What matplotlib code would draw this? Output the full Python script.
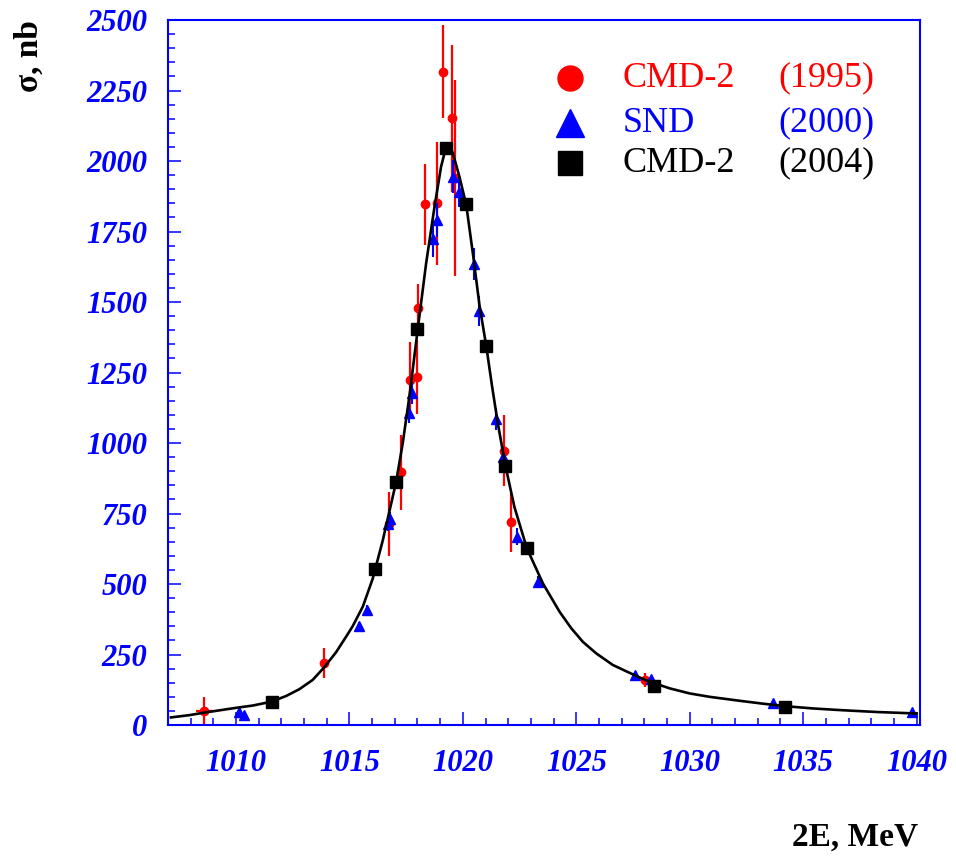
import numpy as np
import matplotlib.pyplot as plt
from matplotlib.ticker import MultipleLocator

# CMD-2 (1995): energy, cross section, errors
cmd95_E = [1008.60, 1013.88, 1016.73, 1017.29, 1017.68, 1017.98, 1018.03, 1018.35,
           1018.85, 1019.13, 1019.51, 1019.67, 1021.82, 1022.14, 1028.05]
cmd95_sig = [50, 221, 713, 896, 1223, 1235, 1478, 1846, 1851, 2317, 2151, 1940, 973, 719, 160]
cmd95_err = [48, 53, 115, 133, 136, 132, 85, 142, 218, 166, 262, 346, 127, 104, 25]
cmd95_Eerr = [0.38, 0, 0, 0, 0, 0, 0, 0, 0, 0, 0, 0, 0, 0, 0]

# SND (2000)
snd_E = [1010.15, 1010.37, 1015.44, 1015.78, 1016.69, 1016.79, 1017.63, 1017.76, 1018.67,
         1018.84, 1019.57, 1019.84, 1020.48, 1020.69, 1021.44, 1021.76, 1022.38, 1023.30,
         1027.61, 1028.31, 1033.67, 1039.82]
snd_sig = [45, 35, 351, 408, 713, 729, 1107, 1178, 1723, 1791, 1944, 1891, 1634, 1468,
           1085, 951, 668, 508, 177, 163, 77, 45]
snd_err = [8, 8, 15, 18, 25, 25, 35, 38, 65, 60, 58, 53, 56, 53, 40, 35, 30, 20, 10, 10, 8, 6]

# CMD-2 (2004)
cmd04_E = [1011.57, 1016.14, 1017.06, 1018.00, 1019.26, 1020.15, 1021.03, 1021.87,
           1022.82, 1028.42, 1034.19]
cmd04_sig = [82, 554, 863, 1403, 2045, 1846, 1345, 918, 627, 138, 65]

# fit curve
fit_E = [1007.13, 1007.94, 1008.60, 1009.26, 1010.00, 1010.73, 1011.57, 1012.21, 1012.79,
         1013.38, 1013.89, 1014.41, 1014.85, 1015.14, 1015.59, 1016.03, 1016.47, 1017.06,
         1017.35, 1017.65, 1018.01, 1018.38, 1018.75, 1019.04, 1019.26, 1019.40, 1019.56,
         1019.85, 1020.15, 1020.47, 1020.73, 1021.03, 1021.29, 1021.54, 1021.88, 1022.27,
         1022.82, 1023.53, 1024.26, 1024.78, 1025.29, 1025.88, 1026.61, 1027.35, 1028.09,
         1028.45, 1029.12, 1030.00, 1030.88, 1032.20, 1033.20, 1034.19, 1035.40, 1036.62,
         1038.30, 1040.00]
fit_sig = [27, 35, 44, 52, 61, 69, 83, 103, 127,
           160, 205, 258, 313, 350, 420, 520, 655, 863,
           1000, 1170, 1403, 1637, 1838, 1980, 2051, 2055, 2027,
           1944, 1844, 1655, 1490, 1344, 1200, 1070, 918, 774,
           627, 502, 402, 343, 295, 254, 213, 185, 158,
           148, 130, 112, 100, 86, 76, 67, 59, 53,
           46, 41]

BLUE = '#0000ff'
RED = '#ff0000'
serif = 'Liberation Serif'

fig = plt.figure(figsize=(9.56, 8.56), dpi=100)
ax = fig.add_axes([0.1757, 0.153, 0.7866, 0.8236])

ax.errorbar(cmd95_E, cmd95_sig, yerr=cmd95_err, xerr=cmd95_Eerr, fmt='o', color=RED,
            ms=6, elinewidth=1.6, capsize=0, zorder=2)
ax.errorbar(snd_E, snd_sig, yerr=snd_err, fmt='^', color=BLUE, ms=6.5,
            elinewidth=1.5, capsize=0, zorder=3)
ax.plot(fit_E, fit_sig, color='black', lw=1.9, zorder=4)
ax.plot(cmd04_E, cmd04_sig, 's', color='black', ms=9, zorder=5)

ax.set_xlim(1007, 1040.15)
ax.set_ylim(0, 2500)
ax.xaxis.set_major_locator(MultipleLocator(5))
ax.xaxis.set_minor_locator(MultipleLocator(1))
ax.yaxis.set_major_locator(MultipleLocator(250))
ax.yaxis.set_minor_locator(MultipleLocator(50))

for s in ax.spines.values():
    s.set_color(BLUE)
    s.set_linewidth(1.5)

ax.tick_params(which='both', direction='in', color=BLUE, width=1.1,
               top=False, right=False, labelcolor=BLUE)
ax.tick_params(which='major', length=9.5)
ax.tick_params(which='minor', length=5)
ax.tick_params(axis='x', which='major', pad=17)
ax.tick_params(axis='y', which='major', pad=15)
for lab in ax.get_xticklabels() + ax.get_yticklabels():
    lab.set_fontfamily(serif)
    lab.set_fontweight('bold')
    lab.set_fontstyle('italic')
    lab.set_fontsize(22)

# axis titles
fig.text(0.031, 0.9766, 'σ, nb', rotation=90, ha='center', va='top',
         family=serif, weight='bold', fontsize=24)
fig.text(0.960, 0.0117, '2E, MeV', ha='right', va='baseline',
         family=serif, weight='bold', fontsize=24)

# legend drawn by hand
rows = [('o', RED, 'CMD-2', '(1995)', 0.9177, 18),
        ('^', BLUE, 'SND', '(2000)', 0.8539, 20),
        ('s', 'black', 'CMD-2', '(2004)', 0.7972, 17)]
for mk, col, name, year, y, size in rows:
    ax.plot([0.5346], [y], mk, color=col, ms=size, transform=ax.transAxes, clip_on=False)
    ax.text(0.605, y, name, color=col, family=serif, fontsize=26,
            ha='left', va='center', transform=ax.transAxes)
    ax.text(0.940, y, year, color=col, family=serif, fontsize=26,
            ha='right', va='center', transform=ax.transAxes)

fig.savefig('out.png', dpi=100)
